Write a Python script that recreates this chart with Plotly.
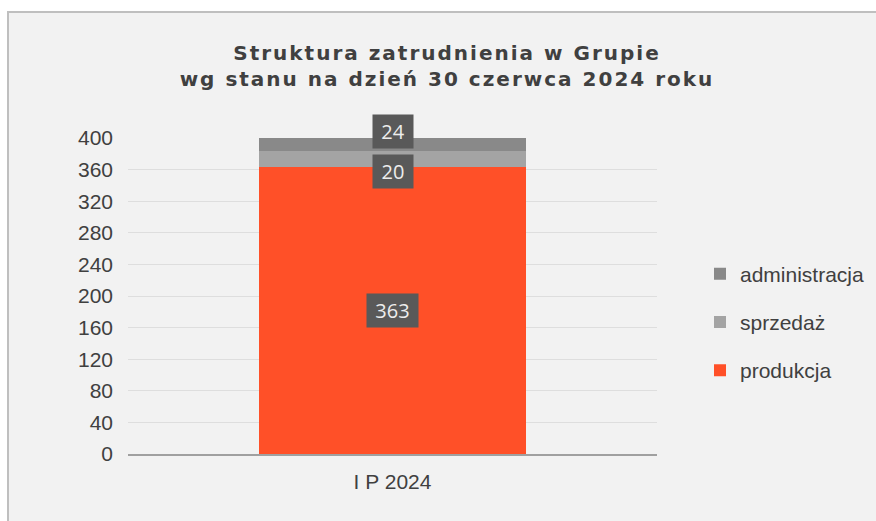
import plotly.graph_objects as go

# ---- data ----
categories = ["I P 2024"]
produkcja = [363]
sprzedaz = [20]
administracja = [24]
y_tick_values = [0, 40, 80, 120, 160, 200, 240, 280, 320, 360, 400]

title_text = "Struktura zatrudnienia w Grupie<br>wg stanu na dzień 30 czerwca 2024 roku"

W, H = 876, 521
ML, MR, MT, MB = 128, 219, 138, 67
PW, PH = W - ML - MR, H - MT - MB

def px_x(p):
    return (p - ML) / PW

def px_y(p):
    return (H - MB - p) / PH

fig = go.Figure()

series = [
    ("produkcja", produkcja, "#ff5028"),
    ("sprzedaż", sprzedaz, "#a4a4a4"),
    ("administracja", administracja, "#898989"),
]
for rank, (name, vals, col) in zip([3000, 2000, 1000], series):
    fig.add_trace(go.Bar(
        x=categories, y=vals, name=name, legendgroup=name, legendrank=rank,
        marker=dict(color=col, line=dict(width=0)),
        hoverinfo="name+y",
    ))

# data labels
label_shifts = [0, -12, 10]
label_widths = [45, 34, 34]
cum = 0
for (name, vals, col), ys, lw in zip(series, label_shifts, label_widths):
    v = vals[0]
    fig.add_annotation(
        x=categories[0], y=cum + v / 2, xref="x", yref="y",
        text=str(v), showarrow=False, yshift=ys,
        font=dict(family="Open Sans", size=20, color="#ededed"),
        bgcolor="#595959", borderpad=3, width=lw, height=27,
    )
    cum += v

# outer frame
fig.add_shape(
    type="rect", xref="paper", yref="paper",
    x0=px_x(8), x1=px_x(890), y0=px_y(535), y1=px_y(12),
    fillcolor="#f2f2f2", line=dict(color="#bfbfbf", width=2), layer="below",
)

fig.update_layout(
    width=W, height=H, autosize=False,
    margin=dict(l=ML, r=MR, t=MT, b=MB, pad=0),
    paper_bgcolor="white",
    plot_bgcolor="rgba(0,0,0,0)",
    barmode="stack",
    bargap=0.495,
    title=dict(
        text=title_text, x=447 / W, xanchor="center",
        y=1 - 59.5 / H, yanchor="middle",
        font=dict(family="DejaVu Sans", size=20, color="#404040", weight="bold"),
    ),
    legend=dict(
        xref="container", yref="container",
        x=700 / W, y=1 - 322 / H, xanchor="left", yanchor="middle",
        traceorder="grouped", tracegroupgap=18,
        font=dict(family="Liberation Sans, Arial", size=21, color="#404040"),
        bgcolor="rgba(0,0,0,0)", itemwidth=30,
    ),
    showlegend=True,
    font=dict(family="Liberation Sans, Arial", size=21, color="#404040"),
)

fig.update_yaxes(
    range=[0, 400], tickvals=y_tick_values, showgrid=True,
    gridcolor="#dedede", gridwidth=1, zeroline=False, showline=False,
    ticks="", ticklabelstandoff=14,
    tickfont=dict(family="Liberation Sans, Arial", size=21, color="#404040"),
)
fig.update_xaxes(
    showgrid=False, showline=True, linecolor="#a0a0a0", linewidth=2,
    ticks="", ticklabelstandoff=8,
    tickfont=dict(family="Liberation Sans, Arial", size=21, color="#404040"),
)

post = ("document.body.style.margin='0';"
        "document.body.style.overflow='hidden';"
        "document.querySelectorAll('.gtitle').forEach(function(t){t.style.letterSpacing='2px';});")
fig.write_html("out.html", post_script=post,
               config={"displayModeBar": False, "responsive": False})
